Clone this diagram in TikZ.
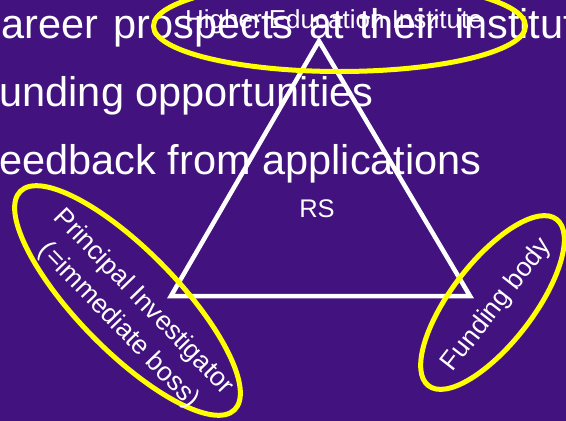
\documentclass[tikz,border=0pt]{standalone}
\usepackage{fontspec}
\setmainfont{Liberation Sans}
\usetikzlibrary{shapes.geometric}
\definecolor{bgpurple}{RGB}{66,18,126}
\definecolor{ringyellow}{RGB}{255,255,0}
\tikzset{
  bigtext/.style={text=white, inner sep=0pt, anchor=base west, font=\fontsize{41.5}{50}\selectfont},
  smalltext/.style={text=white, inner sep=0pt, font=\fontsize{26.5}{34}\selectfont, align=center},
  ring/.style={draw=ringyellow, line width=5pt, ellipse, inner sep=0pt, outer sep=0pt},
  tri/.style={draw=white, line width=4.5pt, line join=miter}
}
\begin{document}
\begin{tikzpicture}[x=1pt,y=1pt]
  \useasboundingbox (0,-421) rectangle (566,0);
  \clip (0,-421) rectangle (566,0);
  \fill[bgpurple] (0,-421) rectangle (566,0);
  % bullet text
  \node[bigtext] (l1) at (-28.5,-38.5) {\spaceskip=0.37em\relax Career prospects at their institution};
  \node[bigtext] (l2) at (-26,-106.5) {Funding opportunities};
  \node[bigtext] (l3) at (-26,-174.5) {Feedback from applications};
  % triangle
  \coordinate (apex) at (319,-41);
  \coordinate (bl) at (171,-296);
  \coordinate (br) at (470,-296);
  \draw[tri] (apex) -- (bl) -- (br) -- cycle;
  \node[smalltext, font=\fontsize{25.5}{30}\selectfont] (rs) at (317,-209) {RS};
  % ellipses
  \node[ring, minimum width=372pt, minimum height=91pt] (hei) at (339.5,-26) {};
  \node[smalltext, anchor=base, font=\fontsize{26}{30}\selectfont] (heit) at (334,-28.5) {Higher Education Institute};
  \node[ring, minimum width=306pt, minimum height=100pt, rotate=-45.6] (pi) at (127.5,-300.5) {};
  \node[smalltext, rotate=-46] (pit) at (131,-314) {Principal Investigator\\(=immediate boss)};
  \node[ring, minimum width=210pt, minimum height=82pt, rotate=52.4] (fb) at (492.5,-302.5) {};
  \node[smalltext, rotate=52] (fbt) at (497,-305) {Funding body};
\end{tikzpicture}
\end{document}
